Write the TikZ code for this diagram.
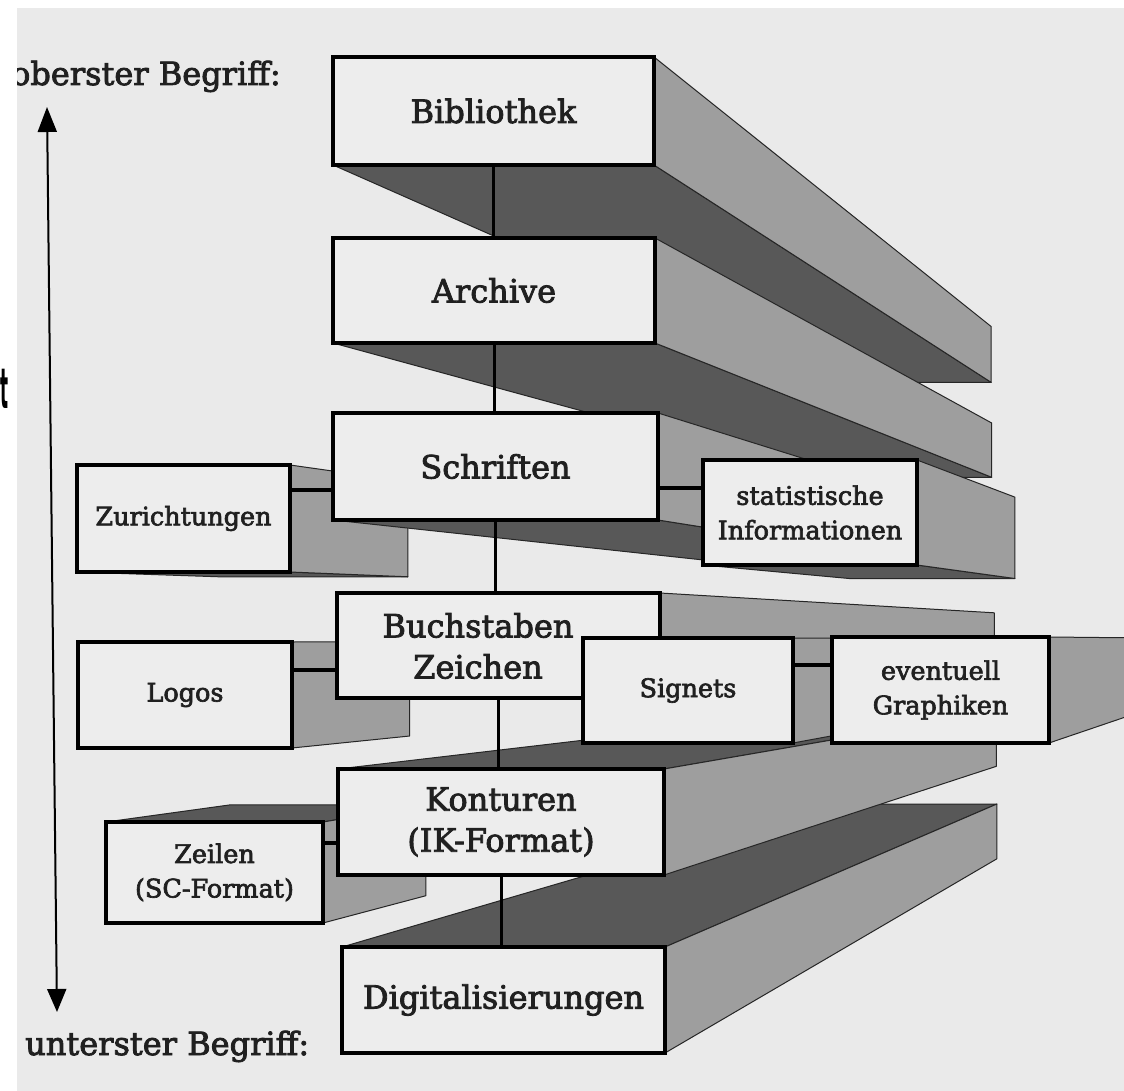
\documentclass[tikz,border=0pt]{standalone}
\usepackage{fontspec}
\setmainfont{DejaVu Serif}
\newfontfamily\boxfont{DejaVu Serif}[FakeBold=2.6]
\newfontfamily\tfragfont{DejaVu Sans Bold}
\usetikzlibrary{calc,arrows.meta}
\definecolor{paper}{HTML}{EAEAEA}
\definecolor{frontc}{HTML}{EDEDED}
\definecolor{sidec}{HTML}{9E9E9E}
\definecolor{darkc}{HTML}{585858}
\definecolor{inkc}{HTML}{202020}

% corners of a box: name, x1, y1, x2, y2, vanishing y, depth factor
\newcommand\mycorners[7]{%
  \coordinate (#1-nw) at (#2,#3);
  \coordinate (#1-ne) at (#4,#3);
  \coordinate (#1-sw) at (#2,#5);
  \coordinate (#1-se) at (#4,#5);
  \coordinate (#1-vp) at (1352,#6);
  \coordinate (#1-bnw) at ($(#1-vp)!#7!(#1-nw)$);
  \coordinate (#1-bne) at ($(#1-vp)!#7!(#1-ne)$);
  \coordinate (#1-bsw) at ($(#1-vp)!#7!(#1-sw)$);
  \coordinate (#1-bse) at ($(#1-vp)!#7!(#1-se)$);
}
\newcommand\myrface[1]{\path[rface] (#1-ne)--(#1-bne)--(#1-bse)--(#1-se)--cycle;}
\newcommand\mybface[1]{\path[dface] (#1-sw)--(#1-se)--(#1-bse)--(#1-bsw)--cycle;}
\newcommand\mytface[1]{\path[dface] (#1-nw)--(#1-ne)--(#1-bne)--(#1-bnw)--cycle;}
% front face: style, name, x1, y1, x2, y2, text
\newcommand\myfront[7]{%
  \pgfmathsetmacro\mybw{#5-#3}\pgfmathsetmacro\mybh{#6-#4}%
  \node[#1,minimum width=\mybw pt,minimum height=\mybh pt] (#2) at ({(#3+#5)/2},{(#4+#6)/2}) {#7};}

\begin{document}
\begin{tikzpicture}[x=1pt,y=-1pt,
  frontface/.style={draw=black,line width=3.2pt,fill=frontc,inner sep=0pt,outer sep=0pt,align=center,text=inkc},
  mainfont/.style={font=\boxfont\fontsize{32}{41}\selectfont},
  sidefont/.style={font=\boxfont\fontsize{25.5}{34.5}\selectfont},
  mainbox/.style={frontface,mainfont},
  sidebox/.style={frontface,sidefont},
  rface/.style={fill=sidec,draw=black!85,line width=1pt,line join=round},
  dface/.style={fill=darkc,draw=black!85,line width=1pt,line join=round},
  vconn/.style={draw=black,line width=3pt},
  hconn/.style={draw=black,line width=4.5pt},
  lbl/.style={font=\boxfont\fontsize{32}{38}\selectfont,text=inkc,inner sep=0pt}
]
\useasboundingbox (0,0) rectangle (1124,1091);
\fill[white] (0,0) rectangle (1124,1091);
\fill[paper] (17,8) rectangle (1124,1091);

% axis and labels
\node[lbl,anchor=base east] (ober) at (281,85) {oberster Begriff:};
\node[lbl,anchor=base west] (unter) at (25,1055) {unterster Begriff:};
\coordinate (atop) at (47,107);
\coordinate (abot) at (57,1012);
\draw[line width=2pt,{Triangle[length=25pt,width=19pt]}-{Triangle[length=23pt,width=19pt]}] (atop) -- (abot);

% Bibliothek
\mycorners{bib}{333}{57}{654}{165}{615}{0.517}
\mybface{bib}\myrface{bib}
\myfront{mainbox}{bib}{333}{57}{654}{165}{Bibliothek}
% Archive
\mycorners{arc}{333}{238}{655}{343}{621}{0.517}
\mybface{arc}\myrface{arc}
\myfront{mainbox}{arc}{333}{238}{655}{343}{Archive}
% Zurichtungen
\mycorners{zur}{77}{465}{290}{572}{615}{0.889}
\mybface{zur}\myrface{zur}
\myfront{sidebox}{zur}{77}{465}{290}{572}{Zurichtungen}
% Schriften
\mycorners{sch}{333}{413}{658}{520}{630}{0.517}
\mybface{sch}\myrface{sch}
\myfront{mainbox}{sch}{333}{413}{658}{520}{Schriften}
% statistische Informationen
\mycorners{sta}{703}{460}{917}{565}{625}{0.775}
\mybface{sta}\myrface{sta}
\myfront{sidebox}{sta}{703}{460}{917}{565}{statistische\\Informationen}
% Logos
\mycorners{log}{78}{642}{292}{748}{640}{0.889}
\myrface{log}
\myfront{sidebox}{log}{78}{642}{292}{748}{Logos}
% Buchstaben Zeichen
\mycorners{buc}{337}{593}{660}{698}{634}{0.517}
\myrface{buc}
\myfront{mainbox}{buc}{337}{593}{660}{698}{}
\node[mainfont,align=center,text=inkc,inner sep=0pt] (buctext) at (478,646) {Buchstaben\\Zeichen};
% Zeilen
\mycorners{zei}{106}{822}{323}{923}{650}{0.9}
\mytface{zei}\myrface{zei}
\myfront{sidebox}{zei}{106}{822}{323}{923}{Zeilen\\(SC-Format)}
% Digitalisierungen
\mycorners{dig}{342}{947}{665}{1053}{651}{0.517}
\mytface{dig}\myrface{dig}
\myfront{mainbox}{dig}{342}{947}{665}{1053}{Digitalisierungen}
% Konturen
\mycorners{kon}{338}{769}{664}{875}{650}{0.517}
\mytface{kon}\myrface{kon}
\myfront{mainbox}{kon}{338}{769}{664}{875}{Konturen\\(IK-Format)}
% Signets
\mycorners{sig}{583}{638}{793}{743}{640}{0.8}
\myrface{sig}
\myfront{sidebox}{sig}{583}{638}{793}{743}{Signets}
% eventuell Graphiken
\mycorners{gra}{832}{637}{1049}{743}{640}{0.7}
\myrface{gra}
\myfront{sidebox}{gra}{832}{637}{1049}{743}{eventuell\\Graphiken}

% connectors
\draw[vconn] (bib.south) -- (bib.south |- arc.north);
\draw[vconn] (arc.south) -- (arc.south |- sch.north);
\draw[vconn] (sch.south) -- (sch.south |- buc.north);
\draw[vconn] (buc.south) -- (buc.south |- kon.north);
\draw[vconn] (kon.south) -- (kon.south |- dig.north);
\path ([yshift=-25pt]zur.north east) coordinate (c1);
\draw[hconn] (c1) -- (c1 -| sch.west);
\path ([yshift=-75pt]sch.north east) coordinate (c2);
\draw[hconn] (c2) -- (c2 -| sta.west);
\path ([yshift=-28pt]log.north east) coordinate (c3);
\draw[hconn] (c3) -- (c3 -| buc.west);
\path ([yshift=-27pt]sig.north east) coordinate (c4);
\draw[hconn] (c4) -- (c4 -| gra.west);
\path ([yshift=-21pt]zei.north east) coordinate (c5);
\draw[hconn] (c5) -- (c5 -| kon.west);

% scan edge
\fill[white] (0,0) rectangle (17,1091);
\fill[white] (0,0) rectangle (1124,8);
\node[font=\tfragfont\fontsize{56}{60}\selectfont,anchor=base west,inner sep=0pt,xscale=0.3,text=black] (tfrag) at (0.5,408) {t};
\end{tikzpicture}
\end{document}
